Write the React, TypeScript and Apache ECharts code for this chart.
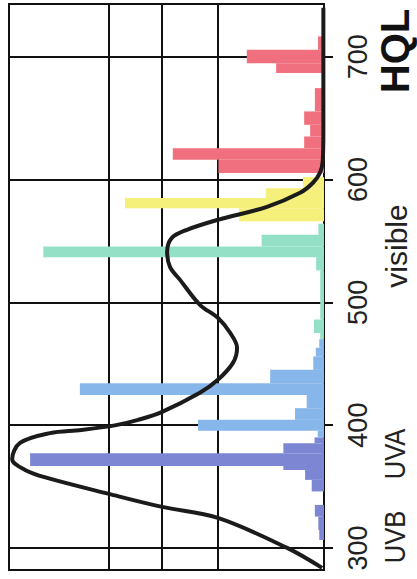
import React, { useEffect, useRef } from "react";
import * as echarts from "echarts";

// Wavelength axis (nm)
const wlMin = 282;
const wlMax = 743;
const wlTicks = [300, 400, 500, 600, 700];
// relative intensity axis (0 at the right edge, 100 at the left edge)
const intensityGrid = [33.7, 51.4, 68.3];

// Lamp emission spectrum bins: start nm, end nm, relative value
const binFrom = [306.5, 314.6, 325.5, 346, 355.4, 363.5, 366.8, 377.1, 385.3,
  390, 395.5, 404.3, 413.8, 424.6, 434.2, 445, 456, 463,
  470, 475, 486, 526, 536.8, 545.5, 555,
  566, 576.7, 584.9, 593,
  605.3, 616.1, 625.6, 635.1, 644.6, 655.5, 686.7, 694.8, 705.7];
const binTo = [314.6, 325.5, 335, 355.4, 363.5, 366.8, 377.1, 385.3, 390,
  395.5, 404.3, 413.8, 424.6, 434.2, 445, 456, 463, 470,
  475, 486, 526, 536.8, 545.5, 555, 564,
  576.7, 584.9, 593, 602,
  616.1, 625.6, 635.1, 644.6, 655.5, 674.5, 694.8, 705.7, 716.6];
const binValue = [1.5, 1.8, 2.9, 3.9, 6.0, 12.9, 93.3, 12.9, 3.0,
  2.0, 40.0, 9.2, 5.5, 77.5, 17.1, 3.4, 2.6, 1.5,
  1.2, 3.2, 1.2, 2.5, 89.1, 19.8, 1.8,
  27.0, 63.2, 18.5, 6.7,
  33.5, 48.0, 6.3, 4.4, 6.3, 2.9, 15.2, 24.5, 1.9];

// colour bands (upper edge of each band, nm)
const bandEdges = [390, 470, 565, 604, 800];
const bandColors = ["#7D86D3", "#87B7EA", "#93E0C6", "#F5EF7C", "#F1707F"];

// Action spectrum curve: wavelength (nm) and relative value
const curveWl = [283.7, 300, 324.4, 333.4, 344, 357, 363.5, 372.5, 385.5, 393.5, 396, 400, 404.3,
  410.8, 426.3, 436.9, 450.7, 462.9, 475.2, 487.4, 498, 518.3, 528.9, 541.1, 552.5, 559.1,
  567.2, 577.8, 589.2, 597.4, 605.5, 615, 640, 740];
const curveValue = [0.6, 11.7, 33.7, 51.4, 68.3, 87.9, 94.9, 99.0, 96.5, 87.0, 77.0, 66.0, 59.0,
  51.4, 39.4, 33.7, 28.9, 27.6, 29.8, 33.7, 39.4, 45.7, 48.9, 49.8, 48.3, 43.5,
  33.7, 18.1, 7.6, 3.5, 1.3, 0.4, 0.2, 0.2];

const FONT = "'Liberation Sans', Arial, Helvetica, sans-serif";

function bandColor(wl: number): string {
  for (let i = 0; i < bandEdges.length; i++) {
    if (wl < bandEdges[i]) return bandColors[i];
  }
  return bandColors[bandColors.length - 1];
}

export default function App() {
  const ref = useRef<HTMLDivElement>(null);
  useEffect(() => {
    if (!ref.current) return;
    const chart = echarts.init(ref.current, null, { renderer: "svg" });
    const bins = binFrom.map((f, i) => [f, binTo[i], binValue[i]]);
    const curve = curveWl.map((w, i) => [curveValue[i], w]);
    chart.setOption({
      animation: false,
      backgroundColor: "#ffffff",
      grid: {
        left: 9, right: 93, top: 4, bottom: 9,
        show: true, borderColor: "#111", borderWidth: 2, backgroundColor: "#fff",
      },
      xAxis: {
        type: "value", inverse: true, min: 0, max: 100,
        axisLine: { show: false },
        axisLabel: { show: false },
        axisTick: { show: false, customValues: intensityGrid },
        splitLine: { show: true, lineStyle: { color: "#111", width: 2 } },
      },
      yAxis: {
        type: "value", position: "right", min: wlMin, max: wlMax,
        axisLine: { show: true, lineStyle: { color: "#111", width: 2 } },
        axisTick: { show: true, length: 9, customValues: wlTicks, lineStyle: { color: "#111", width: 2 } },
        axisLabel: {
          customValues: wlTicks, rotate: 90, fontSize: 27, color: "#222",
          fontFamily: FONT, margin: 20,
        },
        splitLine: { show: true, lineStyle: { color: "#111", width: 2 } },
      },
      series: [
        {
          type: "custom",
          data: bins,
          encode: { x: 2, y: [0, 1] },
          renderItem: (params: any, api: any) => {
            const from = api.value(0);
            const to = api.value(1);
            const v = api.value(2);
            const pTop = api.coord([v, to]);
            const pBase = api.coord([0, from]);
            return {
              type: "rect",
              shape: {
                x: pTop[0], y: pTop[1],
                width: pBase[0] - pTop[0], height: pBase[1] - pTop[1],
              },
              style: { fill: bandColor(from), stroke: null },
            };
          },
          z: 2,
        },
        {
          type: "line",
          data: curve,
          smooth: 0.35,
          showSymbol: false,
          lineStyle: { color: "#1b1b1b", width: 4 },
          z: 3,
        },
      ],
      graphic: [
        { type: "text", x: 395, y: 51, rotation: Math.PI / 2,
          style: { text: "HQL", fontSize: 40, fontWeight: "bold", fontFamily: FONT, fill: "#111", align: "center", verticalAlign: "middle" } },
        { type: "text", x: 396, y: 246, rotation: Math.PI / 2,
          style: { text: "visible", fontSize: 30, fontFamily: FONT, fill: "#222", align: "center", verticalAlign: "middle" } },
        { type: "text", x: 395, y: 454, rotation: Math.PI / 2, scaleX: 0.85,
          style: { text: "UVA", fontSize: 30, fontFamily: FONT, fill: "#222", align: "center", verticalAlign: "middle" } },
        { type: "text", x: 395, y: 537, rotation: Math.PI / 2, scaleX: 0.85,
          style: { text: "UVB", fontSize: 30, fontFamily: FONT, fill: "#222", align: "center", verticalAlign: "middle" } },
      ],
    });
    return () => chart.dispose();
  }, []);
  return (
    <div
      ref={ref}
      style={{ position: "fixed", left: 0, top: 0, width: 417, height: 579, background: "#fff" }}
    />
  );
}
